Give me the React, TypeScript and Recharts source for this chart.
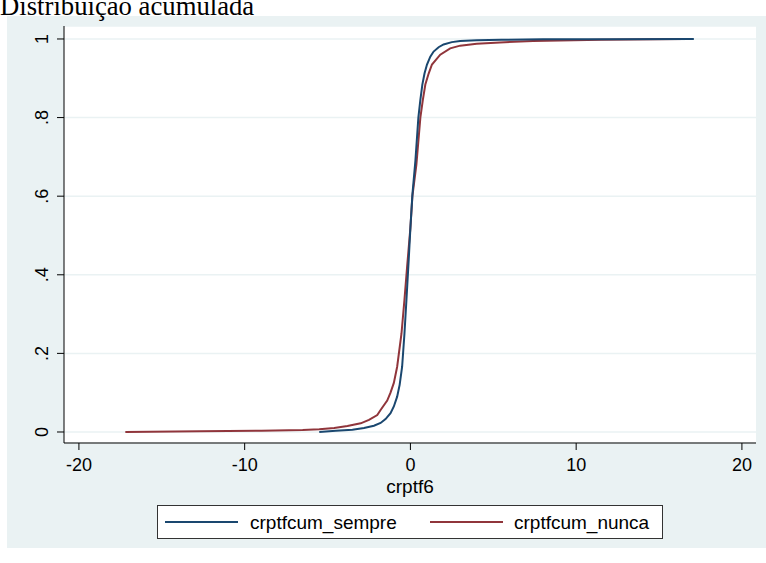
import React from "react";
import { LineChart, Line, XAxis, YAxis, CartesianGrid } from "recharts";

const sempreX = [-5.5, -4.5, -3.5, -2.8, -2.2, -1.8, -1.5, -1.2, -1.0, -0.8, -0.65, -0.5, -0.36, -0.24, -0.1, 0.0, 0.12, 0.3, 0.48, 0.6, 0.72, 0.85, 1.0, 1.2, 1.4, 1.7, 2.0, 2.5, 3.0, 4.0, 5.5, 8.0, 12.0, 17.1];
const sempreY = [0.0, 0.003, 0.006, 0.01, 0.016, 0.023, 0.033, 0.048, 0.065, 0.09, 0.12, 0.166, 0.25, 0.336, 0.44, 0.52, 0.604, 0.69, 0.8, 0.845, 0.884, 0.912, 0.935, 0.955, 0.968, 0.979, 0.986, 0.992, 0.995, 0.997, 0.998, 0.999, 0.9995, 1.0];

const nuncaX = [-17.2, -12.7, -9.0, -6.5, -5.5, -4.6, -3.8, -3.0, -2.5, -2.0, -1.8, -1.4, -1.2, -1.0, -0.8, -0.54, -0.36, -0.2, 0.0, 0.12, 0.36, 0.6, 0.75, 0.9, 1.1, 1.3, 1.8, 2.4, 3.0, 4.0, 5.4, 7.4, 11.5, 16.5];
const nuncaY = [0.0, 0.002, 0.003, 0.005, 0.007, 0.01, 0.015, 0.022, 0.031, 0.043, 0.056, 0.08, 0.1, 0.125, 0.166, 0.25, 0.336, 0.42, 0.52, 0.6, 0.68, 0.8, 0.845, 0.884, 0.912, 0.935, 0.96, 0.976, 0.983, 0.988, 0.991, 0.995, 0.998, 1.0];

const xTicks = [-20, -10, 0, 10, 20];
const yTicks = [0, 0.2, 0.4, 0.6, 0.8, 1];
const yTickLabels = ["0", ".2", ".4", ".6", ".8", "1"];

const seriesNames = ["crptfcum_sempre", "crptfcum_nunca"];
const titleText = "Distribuição acumulada";
const xTitle = "crptf6";

const sempreData = sempreX.map((x, i) => ({ x, y: sempreY[i] }));
const nuncaData = nuncaX.map((x, i) => ({ x, y: nuncaY[i] }));

const BLUE = "#1a476f";
const RED = "#90353b";
const BG = "#eaf2f3";
const SANS = "'Liberation Sans', Arial, sans-serif";

const YTick = (props: any) => {
  const { y, payload } = props;
  const idx = yTicks.indexOf(payload.value);
  const label = idx >= 0 ? yTickLabels[idx] : String(payload.value);
  return (
    <text
      x={48}
      y={y}
      transform={`rotate(-90, 48, ${y})`}
      textAnchor="middle"
      fontSize={18}
      fontFamily={SANS}
      fill="#000"
    >
      {label}
    </text>
  );
};

export default function App() {
  return (
    <div style={{ position: "absolute", left: 0, top: 0, width: 766, height: 563, background: "#fff", overflow: "hidden" }}>
      <div style={{ position: "absolute", left: 7, top: 16, width: 759, height: 532, background: BG }} />
      <div style={{ position: "absolute", left: 0, top: 0 }}>
        <LineChart
          width={766}
          height={563}
          margin={{ top: 26, right: 10, bottom: 80, left: 24 }}
        >
          <CartesianGrid horizontal={true} vertical={false} stroke={BG} strokeWidth={1.5} fill="#fff" />
          <XAxis
            type="number"
            dataKey="x"
            domain={[-20.9, 20.85]}
            ticks={xTicks}
            allowDataOverflow
            height={40}
            tickSize={7}
            tickMargin={8}
            stroke="#000"
            tick={{ fontSize: 18, fill: "#000", fontFamily: SANS }}
            axisLine={{ stroke: "#000" }}
            tickLine={{ stroke: "#000" }}
          />
          <YAxis
            type="number"
            dataKey="y"
            domain={[-0.028, 1.033]}
            ticks={yTicks}
            allowDataOverflow
            width={40}
            tickSize={7}
            stroke="#000"
            tick={<YTick />}
            axisLine={{ stroke: "#000" }}
            tickLine={{ stroke: "#000" }}
          />
          <Line data={nuncaData} dataKey="y" type="linear" stroke={RED} strokeWidth={2} dot={false} isAnimationActive={false} name={seriesNames[1]} />
          <Line data={sempreData} dataKey="y" type="linear" stroke={BLUE} strokeWidth={2} dot={false} isAnimationActive={false} name={seriesNames[0]} />
        </LineChart>
      </div>
      <svg width={766} height={563} style={{ position: "absolute", left: 0, top: 0, pointerEvents: "none" }}>
        <text x={0} y={15} fontSize={26.7} fontFamily="'Liberation Serif', 'Times New Roman', serif" fill="#000">
          {titleText}
        </text>
        <text x={410} y={493} textAnchor="middle" fontSize={19} fontFamily={SANS} fill="#000">
          {xTitle}
        </text>
        <rect x={157.5} y={505.5} width={505} height={33} fill="#fff" stroke="#333" strokeWidth={1} />
        <line x1={165} y1={522} x2={238} y2={522} stroke={BLUE} strokeWidth={2} />
        <text x={250} y={529} fontSize={19} fontFamily={SANS} fill="#000">{seriesNames[0]}</text>
        <line x1={430} y1={522} x2={503} y2={522} stroke={RED} strokeWidth={2} />
        <text x={514} y={529} fontSize={19} fontFamily={SANS} fill="#000">{seriesNames[1]}</text>
      </svg>
    </div>
  );
}
